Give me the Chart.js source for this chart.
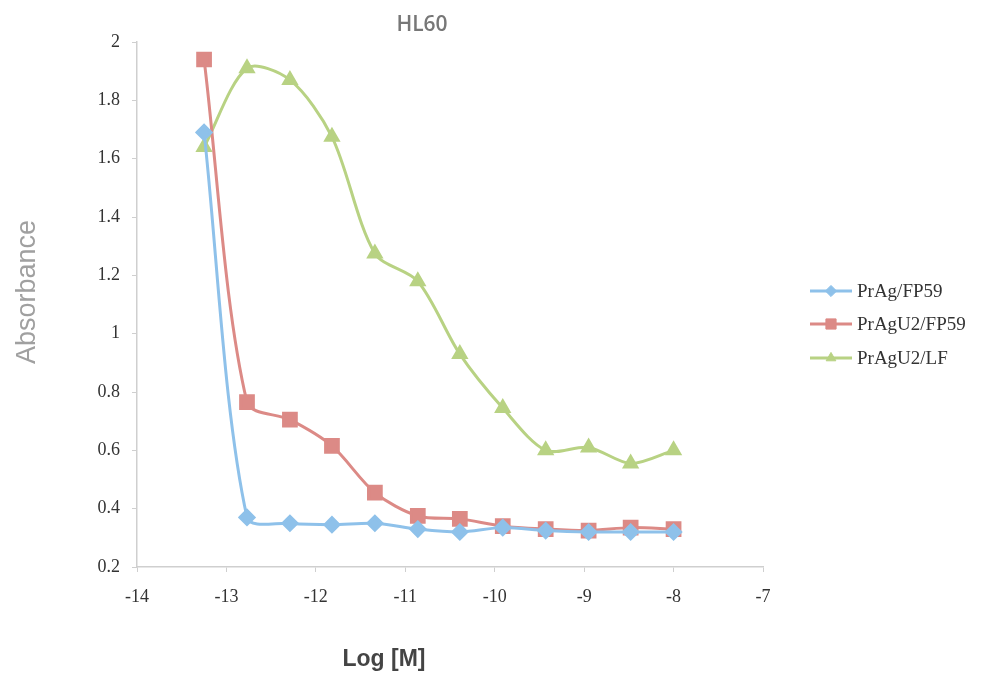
<!DOCTYPE html>
<html>
<head>
<meta charset="utf-8">
<script src="https://cdn.jsdelivr.net/npm/chart.js@4.4.0/dist/chart.umd.min.js"></script>
<style>
  body { margin: 0; background: #fff; }
  #wrap { width: 983px; height: 674px; }
</style>
</head>
<body>
<div id="wrap"><canvas id="myChart" width="983" height="674"></canvas></div>
<script>
// log concentration (M)
const logM = [-13.25, -12.77, -12.29, -11.82, -11.34, -10.86, -10.39, -9.91, -9.43, -8.95, -8.48, -8.0];
// absorbance per construct
const prAgFP59   = [1.69, 0.37, 0.35, 0.345, 0.35, 0.33, 0.32, 0.335, 0.325, 0.32, 0.32, 0.32];
const prAgU2FP59 = [1.94, 0.765, 0.705, 0.615, 0.455, 0.375, 0.365, 0.34, 0.33, 0.325, 0.335, 0.33];
const prAgU2LF   = [1.64, 1.91, 1.87, 1.675, 1.275, 1.18, 0.93, 0.745, 0.6, 0.61, 0.555, 0.6];

const seriesNames = ["PrAg/FP59", "PrAgU2/FP59", "PrAgU2/LF"];
const xTicks = [-14, -13, -12, -11, -10, -9, -8, -7];
const yTicks = [0.2, 0.4, 0.6, 0.8, 1, 1.2, 1.4, 1.6, 1.8, 2];

function pts(ys) {
  return ys.map((y, i) => ({ x: logM[i], y: y }));
}

const tickFont = { family: "'Liberation Serif', 'Times New Roman', serif", size: 18 };

// title, axis titles and legend drawn by hand so they sit where the original has them
const extras = {
  id: "extras",
  afterDraw(chart) {
    const c = chart.ctx;
    c.save();
    c.textAlign = "center";
    c.textBaseline = "middle";
    c.fillStyle = "#777";
    c.font = "600 21px 'Open Sans', 'Liberation Sans', sans-serif";
    c.fillText("HL60", 422, 25);

    c.fillStyle = "#444";
    c.font = "bold 23px 'Liberation Sans', Arial, sans-serif";
    c.fillText("Log [M]", 384, 660);

    c.save();
    c.translate(28, 292);
    c.rotate(-Math.PI / 2);
    c.fillStyle = "#a0a0a0";
    c.font = "27px 'Liberation Sans', Arial, sans-serif";
    c.fillText("Absorbance", 0, 0);
    c.restore();

    // legend
    const rows = [291, 324, 358];
    chart.data.datasets.forEach((ds, i) => {
      const y = rows[i];
      c.strokeStyle = ds.borderColor;
      c.lineWidth = 3;
      c.beginPath();
      c.moveTo(810, y);
      c.lineTo(852, y);
      c.stroke();
      c.fillStyle = ds.backgroundColor;
      c.strokeStyle = ds.borderColor;
      c.lineWidth = 1;
      Chart.helpers.drawPoint(c, { pointStyle: ds.pointStyle, radius: ds.pointRadius * 0.8, borderWidth: 1 }, 831, y);
      c.fillStyle = "#333";
      c.textAlign = "left";
      c.font = "19px 'Liberation Serif', 'Times New Roman', serif";
      c.fillText(ds.label, 857, y + 1);
    });
    c.restore();
  }
};

const ctx = document.getElementById("myChart").getContext("2d");
const myChart = new Chart(ctx, {
  type: "scatter",
  data: {
    datasets: [
      {
        label: seriesNames[0],
        data: pts(prAgFP59),
        borderColor: "#8ec1ea",
        backgroundColor: "#8ec1ea",
        pointStyle: "rectRot",
        pointRadius: 7,
        borderWidth: 3,
        showLine: true,
        tension: 0.3
      },
      {
        label: seriesNames[1],
        data: pts(prAgU2FP59),
        borderColor: "#dc8a86",
        backgroundColor: "#dc8a86",
        pointStyle: "rect",
        pointRadius: 9,
        borderWidth: 3,
        showLine: true,
        tension: 0.3
      },
      {
        label: seriesNames[2],
        data: pts(prAgU2LF),
        borderColor: "#b8d283",
        backgroundColor: "#b8d283",
        pointStyle: "triangle",
        pointRadius: 7,
        borderWidth: 3,
        showLine: true,
        tension: 0.3
      }
    ]
  },
  options: {
    responsive: false,
    animation: false,
    layout: { padding: { top: 42, right: 220, left: 0, bottom: 0 } },
    plugins: {
      legend: { display: false },
      tooltip: { enabled: false }
    },
    scales: {
      x: {
        type: "linear",
        min: xTicks[0],
        max: xTicks[xTicks.length - 1],
        afterBuildTicks: (scale) => { scale.ticks = xTicks.map(v => ({ value: v })); },
        afterFit: (scale) => { scale.height = 107; },
        grid: { drawOnChartArea: false, tickLength: 5, color: "#cfcfcf" },
        border: { color: "#cfcfcf", width: 1.5 },
        ticks: { font: tickFont, color: "#333", padding: 14 }
      },
      y: {
        min: yTicks[0],
        max: yTicks[yTicks.length - 1],
        afterBuildTicks: (scale) => { scale.ticks = yTicks.map(v => ({ value: v })); },
        afterFit: (scale) => { scale.width = 137; },
        grid: { drawOnChartArea: false, tickLength: 5, color: "#cfcfcf" },
        border: { color: "#cfcfcf", width: 1.5 },
        ticks: {
          font: tickFont,
          color: "#333",
          padding: 12,
          callback: function(value) { return String(Math.round(value * 10) / 10); }
        }
      }
    }
  },
  plugins: [extras]
});
</script>
</body>
</html>
